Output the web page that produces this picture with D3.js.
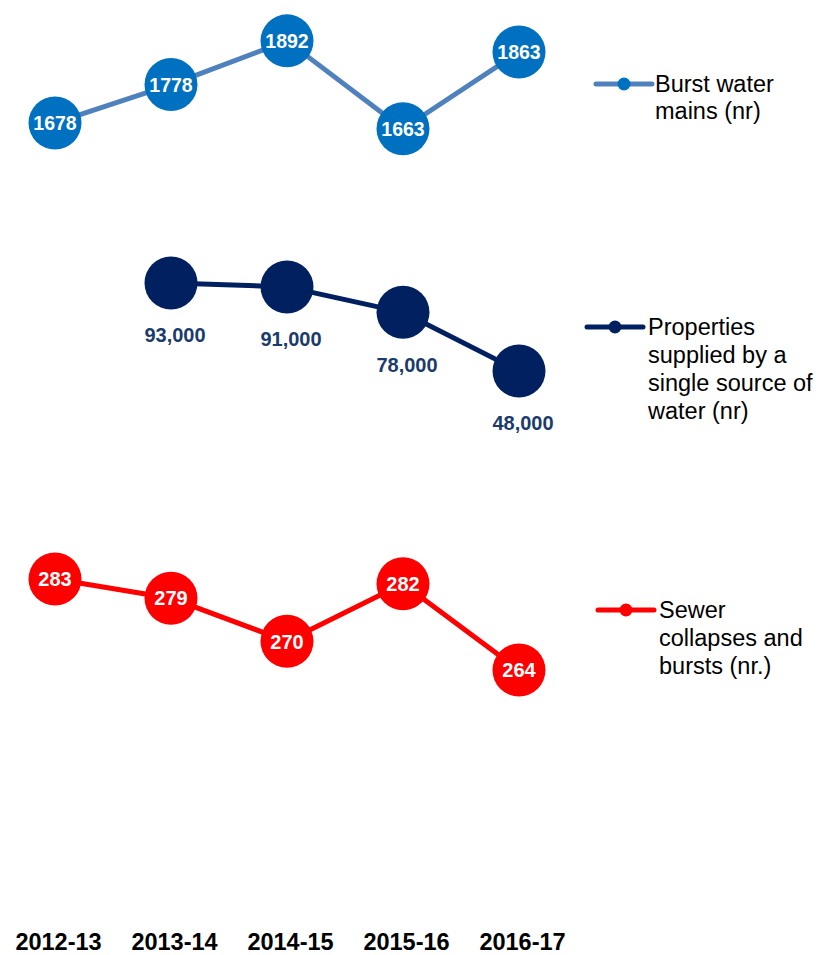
<!DOCTYPE html>
<html>
<head>
<meta charset="utf-8">
<script src="https://cdn.jsdelivr.net/npm/d3@7"></script>
<style>
  html, body { margin: 0; padding: 0; background: #fff; }
  svg { display: block; font-family: Arial, "Liberation Sans", sans-serif; }
</style>
</head>
<body>
<svg id="chart" width="818" height="955"></svg>
<script>
// Years on the shared horizontal axis
const years = ["2012-13", "2013-14", "2014-15", "2015-16", "2016-17"];

// Burst water mains (nr)
const burstMains = [1678, 1778, 1892, 1663, 1863];

// Properties supplied by a single source of water (nr) — no figure for 2012-13
const singleSource = [null, 93000, 91000, 78000, 48000];

// Sewer collapses and bursts (nr.)
const sewerCollapses = [283, 279, 270, 282, 264];

// Legend entries
const legendBurst = ["Burst water", "mains (nr)"];
const legendSingle = ["Properties", "supplied by a", "single source of", "water (nr)"];
const legendSewer = ["Sewer", "collapses and", "bursts (nr.)"];

const svg = d3.select("#chart");

const x = d3.scalePoint().domain(years).range([55, 519]);

// Each series sits in its own horizontal band with an independent value scale
const yBurst = d3.scaleLinear().domain([1600, 1900]).range([152.9, 37.8]);
const ySingle = d3.scaleLinear().domain([40000, 100000]).range([386.7, 269.3]);
const ySewer = d3.scaleLinear().domain([260, 290]).range([689.2, 545.5]);

function drawSeries(values, y, opt) {
  const pts = years.map((yr, i) => ({ yr, v: values[i] })).filter(d => d.v != null);
  const g = svg.append("g");
  const line = d3.line().x(d => x(d.yr)).y(d => y(d.v));
  g.append("path")
    .datum(pts)
    .attr("d", line)
    .attr("fill", "none")
    .attr("stroke", opt.lineColor)
    .attr("stroke-width", opt.lineWidth)
    .attr("stroke-linejoin", "round");
  g.selectAll("circle")
    .data(pts)
    .join("circle")
    .attr("cx", d => x(d.yr))
    .attr("cy", d => y(d.v))
    .attr("r", opt.r)
    .attr("fill", opt.dotColor);
  g.selectAll("text")
    .data(pts)
    .join("text")
    .attr("x", d => x(d.yr) + (opt.labelDx || 0))
    .attr("y", d => y(d.v) + (opt.labelDy || 0))
    .attr("text-anchor", "middle")
    .attr("dy", "0.36em")
    .attr("font-weight", "bold")
    .attr("font-size", opt.fontSize)
    .attr("fill", opt.labelColor)
    .text(d => opt.fmt(d.v));
}

drawSeries(burstMains, yBurst, {
  lineColor: "#4f81bd", lineWidth: 5, dotColor: "#0070c0", r: 26.5,
  labelColor: "#ffffff", fontSize: 19.5, fmt: d3.format("d")
});

drawSeries(singleSource, ySingle, {
  lineColor: "#002060", lineWidth: 5, dotColor: "#002060", r: 26.5,
  labelColor: "#1a3b6c", fontSize: 20, labelDx: 4, labelDy: 52, fmt: d3.format(",")
});

drawSeries(sewerCollapses, ySewer, {
  lineColor: "#ff0000", lineWidth: 5, dotColor: "#ff0000", r: 26.5,
  labelColor: "#ffffff", fontSize: 20, fmt: d3.format("d")
});

// Category axis along the bottom: labels only
const axis = svg.append("g")
  .attr("transform", "translate(3,928)")
  .call(d3.axisBottom(x).tickSize(0).tickPadding(0));
axis.select(".domain").remove();
axis.selectAll("text")
  .attr("font-family", "Arial, 'Liberation Sans', sans-serif")
  .attr("font-size", 23.5)
  .attr("font-weight", "bold")
  .attr("fill", "#000")
  .attr("dy", "0.36em")
  .attr("y", 14);

// Legend
function drawLegend(lines, color, dotColor, lx, ly, tx, lineGap) {
  const g = svg.append("g");
  g.append("line")
    .attr("x1", lx).attr("x2", lx + 56)
    .attr("y1", ly).attr("y2", ly)
    .attr("stroke", color).attr("stroke-width", 5)
    .attr("stroke-linecap", "round");
  g.append("circle")
    .attr("cx", lx + 28).attr("cy", ly).attr("r", 6.5)
    .attr("fill", dotColor);
  g.selectAll("text")
    .data(lines)
    .join("text")
    .attr("x", tx)
    .attr("y", (d, i) => ly + i * lineGap)
    .attr("dy", "0.36em")
    .attr("font-size", 23.5)
    .attr("fill", "#000")
    .text(d => d);
}

drawLegend(legendBurst, "#4f81bd", "#0070c0", 596, 84, 655, 27);
drawLegend(legendSingle, "#002060", "#002060", 587, 327, 648, 28);
drawLegend(legendSewer, "#ff0000", "#ff0000", 598, 610, 659, 28);
</script>
</body>
</html>
